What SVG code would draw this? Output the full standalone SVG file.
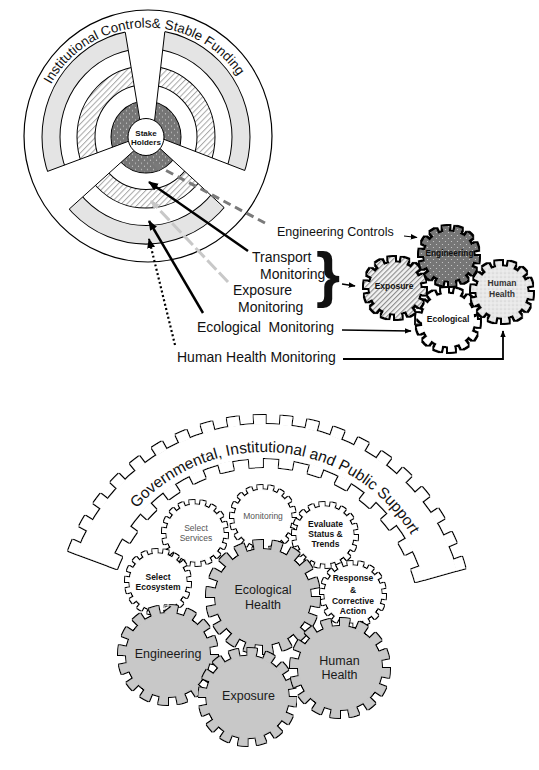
<svg xmlns="http://www.w3.org/2000/svg" width="539" height="770" viewBox="0 0 539 770">
<style>
text{font-family:"Liberation Sans",Arial,sans-serif;fill:#111}
.lbl{font-size:14px}
.lbs{font-size:12.5px}
.sb{font-size:8.5px;font-weight:bold;text-anchor:middle}
.sn{font-size:8.5px;fill:#555;text-anchor:middle}
.big{font-size:12.5px;text-anchor:middle;fill:#1a1a1a}
.tg{font-size:8.5px;font-weight:bold;text-anchor:middle}
.edge{stroke:#000;stroke-width:1;fill:none}
.gap{fill:#fff;stroke:none}
.teeth{fill:none}
.t14{stroke-dasharray:5 5}
.t18{stroke-dasharray:4.5 5.5}
.big5{stroke-dasharray:5 5}
.wt{fill:#fff;stroke:#fff}
.gr{fill:#c8c8c8;stroke:#c8c8c8}
</style>
<defs>
<pattern id="hatch" width="4" height="4" patternUnits="userSpaceOnUse" patternTransform="rotate(45)"><rect width="4" height="4" fill="#fff"/><rect width="1" height="4" fill="#a8a8a8"/></pattern>
<pattern id="hatch2" width="3.6" height="3.6" patternUnits="userSpaceOnUse" patternTransform="rotate(45)"><rect width="3.6" height="3.6" fill="#f2f2f2"/><rect width="1.1" height="3.6" fill="#8a8a8a"/></pattern>
<pattern id="ddots" width="6" height="6" patternUnits="userSpaceOnUse"><rect width="6" height="6" fill="#767676"/><circle cx="1.5" cy="1.5" r="0.6" fill="#d0d0d0"/><circle cx="4.5" cy="4.5" r="0.6" fill="#d0d0d0"/></pattern>
<pattern id="ldots" width="4" height="4" patternUnits="userSpaceOnUse"><rect width="4" height="4" fill="#e8e8e8"/><circle cx="1" cy="1" r="0.6" fill="#c0c0c0"/><circle cx="3" cy="3" r="0.6" fill="#fafafa"/></pattern>
<filter id="ol1" x="-5%" y="-5%" width="110%" height="110%"><feMorphology in="SourceAlpha" operator="dilate" radius="1" result="d"/><feFlood flood-color="#000"/><feComposite in2="d" operator="in" result="o"/><feMerge><feMergeNode in="o"/><feMergeNode in="SourceGraphic"/></feMerge></filter>
<filter id="ol2" x="-10%" y="-10%" width="120%" height="120%"><feMorphology in="SourceAlpha" operator="dilate" radius="1.5" result="d"/><feFlood flood-color="#000"/><feComposite in2="d" operator="in" result="o"/><feMerge><feMergeNode in="o"/><feMergeNode in="SourceGraphic"/></feMerge></filter>
<marker id="mb" viewBox="0 0 10 10" refX="9" refY="5" markerWidth="10" markerHeight="10" markerUnits="userSpaceOnUse" orient="auto"><path d="M0,1 L10,5 L0,9 Z" fill="#000"/></marker>
<marker id="mg" viewBox="0 0 10 10" refX="9" refY="5" markerWidth="10" markerHeight="10" markerUnits="userSpaceOnUse" orient="auto"><path d="M0,1 L10,5 L0,9 Z" fill="#7a7a7a"/></marker>
<marker id="ml" viewBox="0 0 10 10" refX="9" refY="5" markerWidth="9" markerHeight="9" markerUnits="userSpaceOnUse" orient="auto"><path d="M0,1 L10,5 L0,9 Z" fill="#c6c6c6"/></marker>
<marker id="ms" viewBox="0 0 10 10" refX="9" refY="5" markerWidth="7" markerHeight="7" markerUnits="userSpaceOnUse" orient="auto"><path d="M0,1 L10,5 L0,9 Z" fill="#000"/></marker>
<path id="arcT" d="M41.23,108.66 A109.5,109.5 0 0 1 249.9,99.55" fill="none"/>
<path id="arcB" d="M115.04,538 A172,172 0 0 1 426.63,568" fill="none"/>
</defs>
<rect width="539" height="770" fill="#fff"/>

<g id="wheel">
<ellipse cx="148" cy="136" rx="124" ry="126" fill="#fff" stroke="#000" stroke-width="1.2"/>
<g transform="translate(146,137) scale(1,1.03)" stroke="#000" stroke-width="1">
<circle r="104" fill="#e4e4e4"/>
<circle r="86" fill="#fff"/>
<circle r="69" fill="url(#hatch)"/>
<circle r="51" fill="#fff"/>
<circle r="35" fill="url(#ddots)"/>
</g>
<polygon class="gap" points="123,19 140,123 154.5,123 166.3,19"/>
<polygon class="gap" points="140,130 258,175.6 235,217.5"/>
<polygon class="gap" points="156,131 36,175.7 58,219.3"/>
<line class="edge" x1="125.25" y1="32.2" x2="140" y2="121"/>
<line class="edge" x1="164.8" y1="31.8" x2="154.5" y2="121"/>
<line class="edge" x1="244.8" y1="170.5" x2="160" y2="137.8"/>
<line class="edge" x1="224.2" y1="207.6" x2="158" y2="146.6"/>
<line class="edge" x1="47.5" y1="171.4" x2="134" y2="139.2"/>
<line class="edge" x1="69.2" y1="209.1" x2="136" y2="148.8"/>
<ellipse cx="146" cy="137" rx="18" ry="18.5" fill="#fff" stroke="#000" stroke-width="1"/>
<text x="146" y="135.5" style="font-size:8px;font-weight:bold;text-anchor:middle">Stake</text>
<text x="146" y="144.5" style="font-size:8px;font-weight:bold;text-anchor:middle">Holders</text>
<text style="font-size:13.4px"><textPath href="#arcT" startOffset="50%" text-anchor="middle">Institutional Controls&amp; Stable Funding</textPath></text>
</g>

<g id="connectors">
<line x1="265" y1="223" x2="153" y2="163.5" stroke="#7a7a7a" stroke-width="3" stroke-dasharray="8 5" marker-end="url(#mg)"/>
<line x1="228" y1="282" x2="151" y2="201" stroke="#c8c8c8" stroke-width="3" stroke-dasharray="13 4" marker-end="url(#ml)"/>
<line x1="248" y1="251" x2="149" y2="182" stroke="#000" stroke-width="2.5" marker-end="url(#mb)"/>
<line x1="203" y1="313" x2="149" y2="221" stroke="#000" stroke-width="2.5" marker-end="url(#mb)"/>
<line x1="175" y1="345" x2="149" y2="239" stroke="#000" stroke-width="2.2" stroke-dasharray="2 2.5" marker-end="url(#mb)"/>
<line x1="404" y1="236" x2="417" y2="237.5" stroke="#000" stroke-width="1" marker-end="url(#ms)"/>
<line x1="342" y1="284" x2="355" y2="286" stroke="#000" stroke-width="1.3" marker-end="url(#ms)"/>
<line x1="342" y1="330" x2="411" y2="331" stroke="#000" stroke-width="1.6" marker-end="url(#ms)"/>
<polyline points="343,359 503,359 503,331" fill="none" stroke="#000" stroke-width="1.8" marker-end="url(#ms)"/>
</g>

<g id="labels">
<text class="lbs" x="277" y="236">Engineering Controls</text>
<text class="lbl" x="252" y="262">Transport</text>
<text class="lbl" x="260" y="278.5">Monitoring</text>
<text class="lbl" x="233" y="294.5">Exposure</text>
<text class="lbl" x="238" y="311.5">Monitoring</text>
<text class="lbl" x="197" y="331.5" style="white-space:pre">Ecological  Monitoring</text>
<text class="lbl" x="177" y="361.5">Human Health Monitoring</text>
<text x="316" y="295" style="font-size:62px;font-weight:bold">}</text>
</g>

<g id="gear-ecological-top">
<g filter="url(#ol2)">
<circle cx="448" cy="320" r="26.2" fill="#fff"/>
<path class="teeth t14" d="M476.85,320 a28.85,28.85 0 1 1 -57.7,0 a28.85,28.85 0 1 1 57.7,0" stroke="#fff" stroke-width="6.3" pathLength="140"/>
</g>
<text class="tg" x="448" y="322">Ecological</text>
</g>
<g id="gear-exposure-top">
<g filter="url(#ol2)">
<circle cx="395" cy="288" r="25.4" fill="url(#hatch2)"/>
<path class="teeth t14" d="M422.95,288 a27.95,27.95 0 1 1 -55.9,0 a27.95,27.95 0 1 1 55.9,0" stroke="url(#hatch2)" stroke-width="6.1" pathLength="140"/>
</g>
<text class="tg" x="394" y="289">Exposure</text>
</g>
<g id="gear-human-top">
<g filter="url(#ol2)">
<circle cx="502" cy="292" r="25.4" fill="url(#ldots)"/>
<path class="teeth t14" d="M529.95,292 a27.95,27.95 0 1 1 -55.9,0 a27.95,27.95 0 1 1 55.9,0" stroke="url(#ldots)" stroke-width="6.1" pathLength="140"/>
</g>
<text class="tg" x="502" y="286" style="fill:#333">Human</text>
<text class="tg" x="502" y="297" style="fill:#333">Health</text>
</g>
<g id="gear-engineering-top">
<g filter="url(#ol2)">
<circle cx="449" cy="256" r="24.6" fill="url(#ddots)"/>
<path class="teeth t14" d="M476.05,256 a27.05,27.05 0 1 1 -54.1,0 a27.05,27.05 0 1 1 54.1,0" stroke="url(#ddots)" stroke-width="5.9" pathLength="140"/>
</g>
<text class="tg" x="449.5" y="256" style="font-size:8.3px">Engineering</text>
</g>

<g id="arch">
<g filter="url(#ol1)">
<path d="M76.67,553.96 A200,200 0 0 1 456.73,570.55 L423.96,579.64 A166,166 0 0 0 108.51,565.86 Z" fill="#fff"/>
<path d="M72.69,552.47 A204.25,204.25 0 0 1 460.82,569.42" fill="none" stroke="#fff" stroke-width="9.5" pathLength="144" stroke-dasharray="3.26 4.148"/>
<path d="M112.49,567.35 A161.75,161.75 0 0 1 419.87,580.77" fill="none" stroke="#fff" stroke-width="9.5" pathLength="144" stroke-dasharray="4.818 5.888"/>
</g>
<text style="font-size:15.5px"><textPath href="#arcB" startOffset="50%" text-anchor="middle">Governmental, Institutional and Public Support</textPath></text>
</g>

<g id="gear-monitoring">
<g filter="url(#ol1)"><circle cx="263" cy="518" r="28" class="wt"/><path class="teeth t18" d="M293.25,518 a30.25,30.25 0 1 1 -60.5,0 a30.25,30.25 0 1 1 60.5,0" stroke="#fff" stroke-width="5.5" pathLength="180"/></g>
<text class="sn" x="263" y="519">Monitoring</text>
</g>
<g id="gear-select-services">
<g filter="url(#ol1)"><circle cx="195" cy="533" r="28" class="wt"/><path class="teeth t18" d="M225.25,533 a30.25,30.25 0 1 1 -60.5,0 a30.25,30.25 0 1 1 60.5,0" stroke="#fff" stroke-width="5.5" pathLength="180"/></g>
<text class="sn" x="196" y="531">Select</text>
<text class="sn" x="196" y="541">Services</text>
</g>
<g id="gear-evaluate">
<g filter="url(#ol1)"><circle cx="325" cy="535" r="28" class="wt"/><path class="teeth t18" d="M355.25,535 a30.25,30.25 0 1 1 -60.5,0 a30.25,30.25 0 1 1 60.5,0" stroke="#fff" stroke-width="5.5" pathLength="180"/></g>
<text class="sb" x="325.5" y="526.5">Evaluate</text>
<text class="sb" x="325.5" y="536.5">Status &amp;</text>
<text class="sb" x="325.5" y="546.5">Trends</text>
</g>
<g id="gear-select-ecosystem">
<g filter="url(#ol1)"><circle cx="158" cy="582" r="28" class="wt"/><path class="teeth t18" d="M188.25,582 a30.25,30.25 0 1 1 -60.5,0 a30.25,30.25 0 1 1 60.5,0" stroke="#fff" stroke-width="5.5" pathLength="180"/></g>
<text class="sb" x="158" y="579.5">Select</text>
<text class="sb" x="158" y="589.5">Ecosystem</text>
</g>
<g id="gear-response">
<g filter="url(#ol1)"><circle cx="353" cy="594" r="28" class="wt"/><path class="teeth t18" d="M383.25,594 a30.25,30.25 0 1 1 -60.5,0 a30.25,30.25 0 1 1 60.5,0" stroke="#fff" stroke-width="5.5" pathLength="180"/></g>
<text class="sb" x="353" y="581">Response</text>
<text class="sb" x="353" y="592.5">&amp;</text>
<text class="sb" x="353" y="603.5">Corrective</text>
<text class="sb" x="353" y="614">Action</text>
</g>
<g id="gear-ecological-health">
<g filter="url(#ol1)"><circle cx="263" cy="597" r="47.3" class="gr"/><path class="teeth big5" d="M314.9,597 a51.9,51.9 0 1 1 -103.8,0 a51.9,51.9 0 1 1 103.8,0" stroke="#c8c8c8" stroke-width="10.2" pathLength="180"/></g>
<text class="big" x="263" y="594">Ecological</text>
<text class="big" x="263" y="609">Health</text>
</g>
<g id="gear-engineering">
<g filter="url(#ol1)"><circle cx="168" cy="655" r="41.5" class="gr"/><path class="teeth big5" d="M213.5,655 a45.5,45.5 0 1 1 -91,0 a45.5,45.5 0 1 1 91,0" stroke="#c8c8c8" stroke-width="9" pathLength="160"/></g>
<text class="big" x="168" y="657.5">Engineering</text>
</g>
<g id="gear-exposure">
<g filter="url(#ol1)"><circle cx="247.5" cy="697" r="40.7" class="gr"/><path class="teeth big5" d="M292.1,697 a44.6,44.6 0 1 1 -89.2,0 a44.6,44.6 0 1 1 89.2,0" stroke="#c8c8c8" stroke-width="8.8" pathLength="160"/></g>
<text class="big" x="248.5" y="699.5">Exposure</text>
</g>
<g id="gear-human-health">
<g filter="url(#ol1)"><circle cx="340" cy="668" r="41.5" class="gr"/><path class="teeth big5" d="M385.5,668 a45.5,45.5 0 1 1 -91,0 a45.5,45.5 0 1 1 91,0" stroke="#c8c8c8" stroke-width="9" pathLength="160"/></g>
<text class="big" x="339.5" y="665">Human</text>
<text class="big" x="339.5" y="679">Health</text>
</g>
</svg>
